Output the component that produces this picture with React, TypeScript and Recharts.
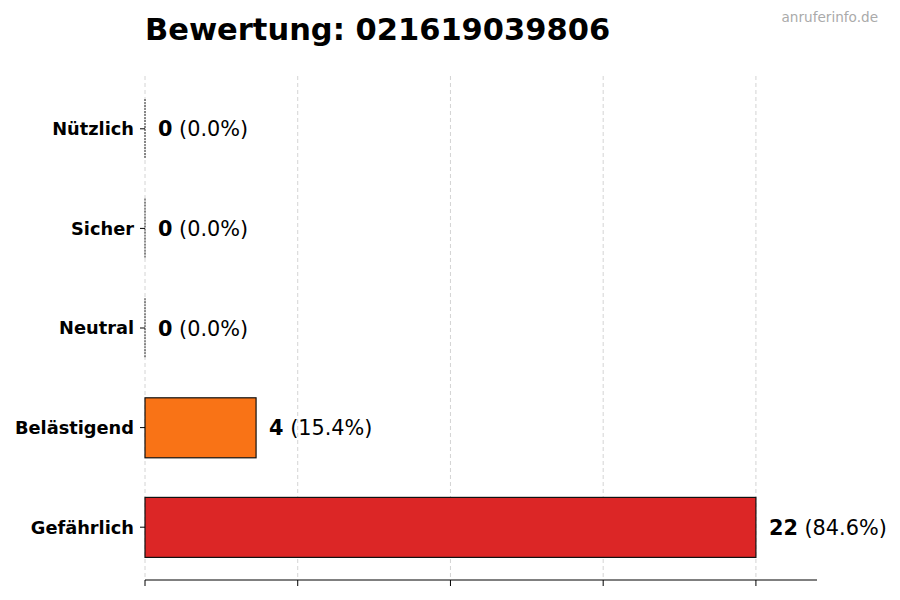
import { BarChart, Bar, XAxis, YAxis, CartesianGrid, Cell, LabelList } from "recharts";

const categories = ["Nützlich", "Sicher", "Neutral", "Belästigend", "Gefährlich"];
const counts = [0, 0, 0, 4, 22];
const xTicks = [0, 5.5, 11, 16.5, 22];
const xMax = 24.2;
const title = "Bewertung: 021619039806";
const watermark = "anruferinfo.de";

const barColors = ["#9ca3af", "#16a34a", "#9ca3af", "#f97316", "#dc2626"];

const total = counts.reduce((a, b) => a + b, 0);
const data = categories.map((name, i) => ({
  name,
  count: counts[i],
  pct: total ? (counts[i] / total) * 100 : 0,
}));

const FONT = "DejaVu Sans, Verdana, sans-serif";

const BarShape = (props: any) => {
  const { x, y, width, height, fill } = props;
  if (!width || width < 0.5) {
    return <line x1={x} x2={x} y1={y} y2={y + height} stroke="#222" strokeWidth={1} strokeDasharray="2 1" />;
  }
  return <rect x={x} y={y} width={width} height={height} fill={fill} stroke="#111" strokeWidth={1.2} />;
};

const ValueLabel = (props: any) => {
  const { x, y, width, height, index } = props;
  const d = data[index];
  return (
    <text x={x + width + 13} y={y + height / 2} dy="0.36em" fontFamily={FONT} fontSize={20.8} fill="#000">
      <tspan fontWeight="bold">{d.count}</tspan>
      <tspan> ({d.pct.toFixed(1)}%)</tspan>
    </text>
  );
};

export default function App() {
  return (
    <div style={{ position: "absolute", left: 0, top: 0, width: 900, height: 600, background: "#fff" }}>
      <BarChart
        width={900}
        height={600}
        data={data}
        layout="vertical"
        margin={{ top: 76, right: 83, left: 0, bottom: 0 }}
      >
        <CartesianGrid horizontal={false} syncWithTicks stroke="#d4d4d4" strokeDasharray="4 3" />
        <XAxis
          type="number"
          domain={[0, xMax]}
          ticks={xTicks}
          tickFormatter={() => ""}
          height={20}
          tickSize={6}
          stroke="#000"
          axisLine={{ stroke: "#000" }}
          tickLine={{ stroke: "#000" }}
        />
        <YAxis
          type="category"
          dataKey="name"
          width={145}
          axisLine={false}
          tickLine={{ stroke: "#000" }}
          tickSize={5}
          padding={{ top: 3, bottom: 3 }}
          tick={{ fill: "#000", fontFamily: FONT, fontSize: 17.8, fontWeight: "bold" }}
          tickMargin={6}
        />
        <Bar dataKey="count" barSize={60} isAnimationActive={false} shape={BarShape}>
          {data.map((d, i) => (
            <Cell key={d.name} fill={barColors[i]} />
          ))}
          <LabelList dataKey="count" content={ValueLabel} />
        </Bar>
      </BarChart>
      <svg width={900} height={600} style={{ position: "absolute", left: 0, top: 0, pointerEvents: "none" }}>
        <text x={145} y={40} fontFamily={FONT} fontSize={30.5} fontWeight="bold" fill="#000">
          {title}
        </text>
        <text x={878} y={22} textAnchor="end" fontFamily={FONT} fontSize={13.6} fill="#aaaaaa">
          {watermark}
        </text>
      </svg>
    </div>
  );
}
